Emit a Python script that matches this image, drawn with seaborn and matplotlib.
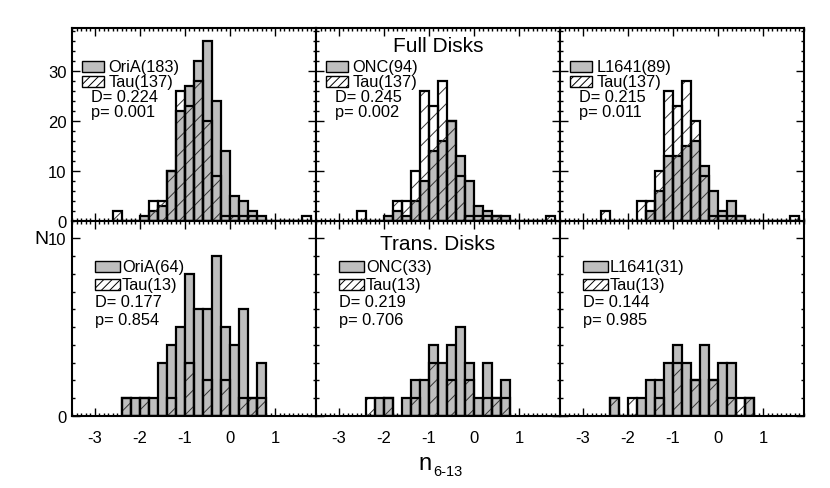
import matplotlib
matplotlib.use("Agg")
import matplotlib.pyplot as plt
from matplotlib.patches import Rectangle
from matplotlib.ticker import FixedLocator, MultipleLocator
import seaborn as sns

sns.set_theme(style="ticks")
plt.rcParams['font.family'] = ['Liberation Sans', 'DejaVu Sans']
plt.rcParams['text.color'] = 'black'
plt.rcParams['axes.unicode_minus'] = False
plt.rcParams['hatch.linewidth'] = 0.7

BIN_W = 0.2

# left bin edges, full disks
full_bins = [-2.6, -2.4, -2.2, -2.0, -1.8, -1.6, -1.4, -1.2, -1.0, -0.8, -0.6,
             -0.4, -0.2, 0.0, 0.2, 0.4, 0.6, 0.8, 1.0, 1.2, 1.4, 1.6]
full_tau = [2, 0, 0, 0, 4, 4, 10, 26, 23, 28, 20, 9, 1, 1, 1, 1, 0, 0, 0, 0, 0, 1]
full_oria = [0, 0, 0, 1, 2, 3, 10, 22, 27, 32, 36, 24, 14, 5, 4, 2, 1, 0, 0, 0, 0, 0]
full_onc = [0, 0, 0, 1, 2, 1, 4, 8, 14, 16, 20, 13, 8, 3, 2, 1, 1, 0, 0, 0, 0, 0]
full_l1641 = [0, 0, 0, 0, 0, 2, 6, 13, 13, 15, 16, 11, 6, 2, 4, 1, 0, 0, 0, 0, 0, 0]

# left bin edges, transitional disks
trans_bins = [-2.4, -2.2, -2.0, -1.8, -1.6, -1.4, -1.2, -1.0, -0.8, -0.6, -0.4,
              -0.2, 0.0, 0.2, 0.4, 0.6]
trans_tau = [1, 0, 1, 0, 0, 1, 0, 3, 0, 2, 0, 2, 0, 1, 1, 1]
trans_oria = [1, 1, 1, 1, 3, 4, 5, 8, 6, 6, 9, 5, 4, 6, 1, 3]
trans_onc = [0, 1, 1, 0, 1, 2, 2, 4, 3, 4, 5, 3, 1, 3, 1, 2]
trans_l1641 = [1, 0, 0, 1, 2, 2, 3, 4, 3, 2, 4, 2, 3, 3, 0, 1]

top_names = ['OriA(183)', 'ONC(94)', 'L1641(89)']
top_tau_name = 'Tau(137)'
top_D = ['0.224', '0.245', '0.215']
top_p = ['0.001', '0.002', '0.011']
bot_names = ['OriA(64)', 'ONC(33)', 'L1641(31)']
bot_tau_name = 'Tau(13)'
bot_D = ['0.177', '0.219', '0.144']
bot_p = ['0.854', '0.706', '0.985']

GRAY = '#bebebe'


def hist(ax, bins, counts, **kw):
    centers = [b + BIN_W / 2 for b in bins]
    edges = list(bins) + [bins[-1] + BIN_W]
    sns.histplot(x=centers, weights=counts, bins=edges, element='bars', ax=ax, **kw)


def panel(ax, bins, gray, tau):
    hist(ax, bins, gray, fill=True, facecolor=GRAY, edgecolor='black', linewidth=1.6, alpha=1)
    hist(ax, bins, tau, fill=True, facecolor='none', edgecolor='#333333', linewidth=0,
         hatch='//', alpha=1)
    hist(ax, bins, tau, fill=False, color='black', linewidth=1.6, alpha=1)


def key(ax, x0, ys, w, h, name, tau_name, D, p, xt, xd, fs=11.8):
    ax.add_patch(Rectangle((x0, ys[0] - h / 2), w, h, transform=ax.transAxes,
                           facecolor=GRAY, edgecolor='black', lw=1.0, clip_on=False))
    ax.add_patch(Rectangle((x0, ys[1] - h / 2), w, h, transform=ax.transAxes,
                           facecolor='white', edgecolor='black', lw=1.0, hatch='////',
                           clip_on=False))
    ax.text(xt, ys[0], name, transform=ax.transAxes, va='center', ha='left', fontsize=fs)
    ax.text(xt, ys[1], tau_name, transform=ax.transAxes, va='center', ha='left', fontsize=fs)
    ax.text(xd, ys[2], 'D= ' + D, transform=ax.transAxes, va='center', ha='left', fontsize=fs)
    ax.text(xd, ys[3], 'p= ' + p, transform=ax.transAxes, va='center', ha='left', fontsize=fs)


fig = plt.figure(figsize=(8.30, 4.89), dpi=100)
L, W = 72 / 830, 244 / 830
top_ax = [fig.add_axes([L + i * W, 1 - 221.7 / 489, W, 192.4 / 489]) for i in range(3)]
bot_ax = [fig.add_axes([L + i * W, 1 - 417 / 489, W, 195.3 / 489]) for i in range(3)]

for ax, g in zip(top_ax, [full_oria, full_onc, full_l1641]):
    panel(ax, full_bins, g, full_tau)
    ax.set_ylim(0, 38.5)
    ax.yaxis.set_major_locator(FixedLocator([0, 10, 20, 30]))
    ax.yaxis.set_minor_locator(MultipleLocator(2))
for ax, g in zip(bot_ax, [trans_oria, trans_onc, trans_l1641]):
    panel(ax, trans_bins, g, trans_tau)
    ax.set_ylim(0, 11)
    ax.yaxis.set_major_locator(FixedLocator([0, 10]))
    ax.yaxis.set_minor_locator(MultipleLocator(1))

for i, ax in enumerate(top_ax + bot_ax):
    ax.set_xlim(-3.51, 1.91)
    ax.xaxis.set_major_locator(FixedLocator([-3, -2, -1, 0, 1]))
    ax.xaxis.set_minor_locator(MultipleLocator(0.1))
    ax.set_xlabel('')
    ax.set_ylabel('')
    for s in ax.spines.values():
        s.set_linewidth(1.5)
        s.set_color('black')
    ax.tick_params(which='both', direction='in', top=True, right=True, width=1.0,
                   color='black', labelsize=12, labelcolor='black')
    ax.tick_params(which='major', length=6)
    ax.tick_params(which='minor', length=2.5)
    ax.tick_params(axis='x', pad=10)
    ax.tick_params(axis='y', pad=4)
    ax.tick_params(labelleft=(i % 3 == 0), labelbottom=(i >= 3))

for i, ax in enumerate(top_ax):
    key(ax, 0.04, [0.80, 0.725, 0.648, 0.570], 0.09, 0.057,
        top_names[i], top_tau_name, top_D[i], top_p[i], 0.149, 0.077)
for i, ax in enumerate(bot_ax):
    key(ax, 0.094, [0.764, 0.672, 0.585, 0.492], 0.103, 0.056,
        bot_names[i], bot_tau_name, bot_D[i], bot_p[i], 0.205, 0.094)

top_ax[1].text(0.5, 0.91, 'Full Disks', transform=top_ax[1].transAxes,
               ha='center', va='center', fontsize=15)
bot_ax[1].text(0.5, 0.885, 'Trans. Disks', transform=bot_ax[1].transAxes,
               ha='center', va='center', fontsize=15)

fig.text(41 / 830, 1 - 240 / 489, 'N', ha='center', va='center', fontsize=14)
fig.text(432 / 830, 1 - 470 / 489, 'n', ha='right', va='baseline', fontsize=17)
fig.text(433 / 830, 1 - 476 / 489, '6-13', ha='left', va='baseline', fontsize=10.5)

fig.savefig('out.png', dpi=100, facecolor='white')
